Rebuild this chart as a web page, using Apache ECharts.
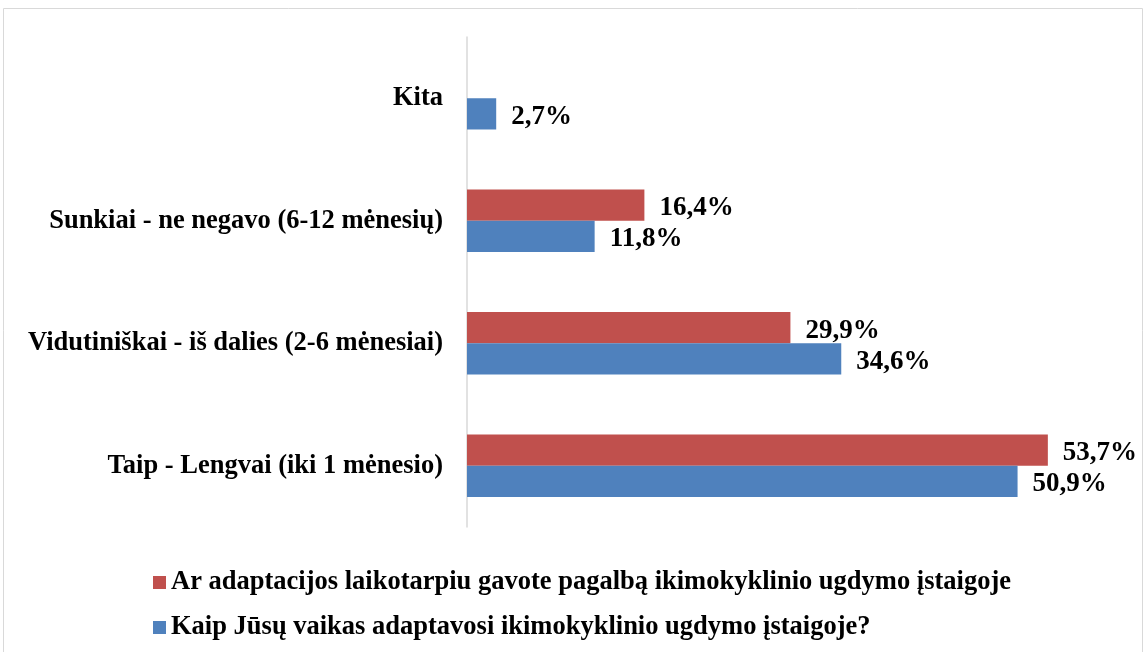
<!DOCTYPE html>
<html>
<head>
<meta charset="utf-8">
<script src="https://cdn.jsdelivr.net/npm/echarts@6/dist/echarts.min.js"></script>
<style>
  html, body { margin: 0; padding: 0; background: #fff; }
  #chart { width: 1145px; height: 652px; }
</style>
</head>
<body>
<div id="chart"></div>
<script>
// kategorijos (iš apačios į viršų)
const categories = [
  'Taip - Lengvai (iki 1 mėnesio)',
  'Vidutiniškai - iš dalies (2-6 mėnesiai)',
  'Sunkiai - ne negavo (6-12 mėnesių)',
  'Kita'
]
const seriesNames = [
  'Ar adaptacijos laikotarpiu gavote pagalbą ikimokyklinio ugdymo įstaigoje',
  'Kaip Jūsų vaikas adaptavosi ikimokyklinio ugdymo įstaigoje?'
]
const helpValues = [53.7, 29.9, 16.4, null]
const adaptValues = [50.9, 34.6, 11.8, 2.7]

const font = '"Liberation Serif", "Times New Roman", serif'
const chart = echarts.init(document.getElementById('chart'))

const labelOpt = {
  show: true,
  position: 'right',
  distance: 15,
  offset: [0, 3],
  fontFamily: font,
  fontWeight: 'bold',
  fontSize: 27,
  color: '#000',
  formatter: p => p.value.toFixed(1).replace('.', ',') + '%'
}

chart.setOption({
  animation: false,
  graphic: [{
    type: 'rect',
    shape: { x: 3.5, y: 8.5, width: 1139, height: 660 },
    style: { fill: 'none', stroke: '#d9d9d9', lineWidth: 1 },
    silent: true
  }],
  grid: { left: 467, right: 29, top: 37, bottom: 125 },
  legend: {
    orient: 'vertical',
    left: 148,
    top: 564,
    itemGap: 18,
    itemWidth: 13,
    itemHeight: 13,
    icon: 'rect',
    data: seriesNames,
    textStyle: { fontFamily: font, fontWeight: 'bold', fontSize: 26.5, color: '#000' }
  },
  xAxis: {
    type: 'value',
    min: 0,
    max: 60,
    show: false
  },
  yAxis: {
    type: 'category',
    data: categories,
    axisLine: { show: true, lineStyle: { color: '#d9d9d9', width: 1.5 } },
    axisTick: { show: false },
    axisLabel: {
      margin: 24,
      padding: [3, 0, 0, 0],
      fontFamily: font,
      fontWeight: 'bold',
      fontSize: 26.5,
      color: '#000'
    }
  },
  series: [
    {
      name: seriesNames[0],
      type: 'bar',
      data: helpValues,
      barGap: '0%',
      barCategoryGap: '49%',
      itemStyle: { color: '#c0504d' },
      label: labelOpt
    },
    {
      name: seriesNames[1],
      type: 'bar',
      data: adaptValues,
      itemStyle: { color: '#4f81bd' },
      label: labelOpt
    }
  ]
})
</script>
</body>
</html>
